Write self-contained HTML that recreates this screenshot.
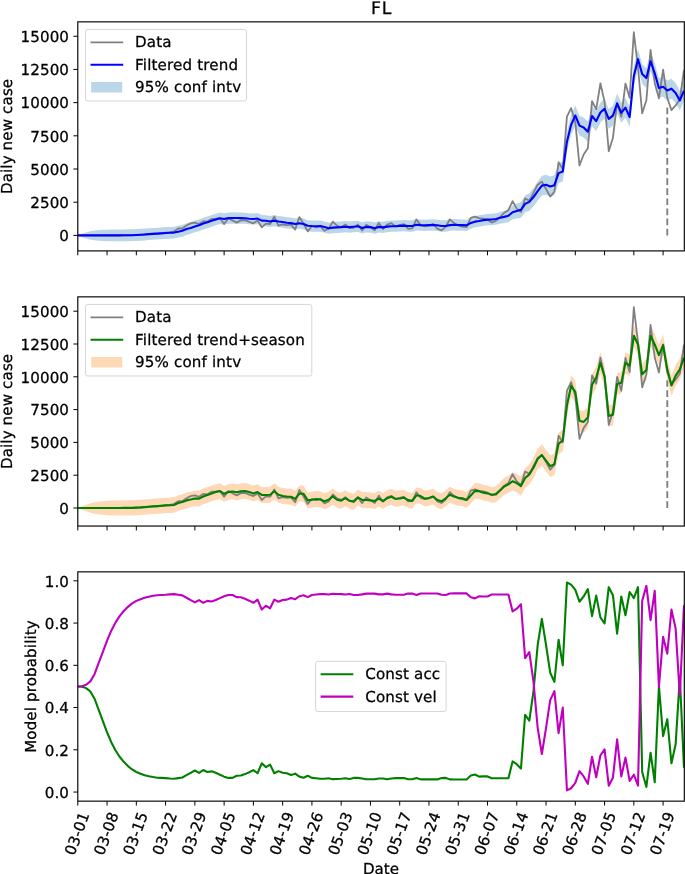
<!DOCTYPE html>
<html><head><meta charset="utf-8"><title>FL</title>
<style>html,body{margin:0;padding:0;background:#fff}svg{display:block}</style></head>
<body>
<svg width="685" height="874" viewBox="0 0 685 874" font-family="'DejaVu Sans', 'Liberation Sans', sans-serif" font-size="15.1px" fill="#000">
<rect width="685" height="874" fill="#fff"/>
<style>text{stroke:#000;stroke-width:0.28px;stroke-linejoin:round;text-rendering:geometricPrecision}</style>
<defs>
<clipPath id="c1"><rect x="77.8" y="21.85" width="606.5" height="229.05"/></clipPath>
<clipPath id="c2"><rect x="77.8" y="296.85" width="606.5" height="229.19999999999993"/></clipPath>
<clipPath id="c3"><rect x="77.8" y="571.85" width="606.5" height="229.29999999999995"/></clipPath>
</defs>
<g clip-path="url(#c1)">
<polygon points="77.80,235.40 81.98,233.67 86.16,232.41 90.34,231.15 94.52,230.55 98.70,229.96 102.88,229.80 107.06,229.65 111.25,229.49 115.43,229.45 119.61,229.42 123.79,229.38 127.97,229.34 132.15,229.31 136.33,229.09 140.51,228.87 144.69,228.56 148.87,228.26 153.05,227.99 157.23,227.73 161.41,227.42 165.59,227.12 169.78,226.90 173.96,226.68 178.14,225.80 182.32,224.92 186.50,223.17 190.68,222.04 194.86,220.56 199.04,219.40 203.22,217.68 207.40,216.47 211.58,214.95 215.76,213.66 219.94,212.54 224.12,213.27 228.31,212.43 232.49,212.29 236.67,212.41 240.85,212.53 245.03,212.63 249.21,213.17 253.39,213.44 257.57,213.00 261.75,215.01 265.93,215.18 270.11,215.88 274.29,215.00 278.47,215.88 282.65,216.49 286.83,217.19 291.02,217.53 295.20,218.41 299.38,217.62 303.56,218.40 307.74,220.15 311.92,220.41 316.10,220.59 320.28,220.41 324.46,221.46 328.64,222.60 332.82,221.97 337.00,221.72 341.18,221.45 345.36,221.09 349.55,221.44 353.73,221.08 357.91,220.64 362.09,222.31 366.27,221.26 370.45,221.43 374.63,222.57 378.81,221.26 382.99,221.69 387.17,220.99 391.35,220.55 395.53,220.54 399.71,220.18 403.89,219.93 408.08,220.36 412.26,220.36 416.44,219.04 420.62,219.48 424.80,219.65 428.98,219.48 433.16,219.29 437.34,219.64 441.52,220.35 445.70,220.34 449.88,219.47 454.06,219.03 458.24,219.28 462.42,219.46 466.61,219.63 470.79,217.26 474.97,215.95 479.15,215.33 483.33,214.43 487.51,213.90 491.69,213.76 495.87,213.23 500.05,211.88 504.23,210.74 508.41,209.42 512.59,205.41 516.77,203.60 520.95,201.96 525.13,195.59 529.32,193.13 533.50,187.88 537.68,181.54 541.86,175.65 546.04,174.79 550.22,176.52 554.40,175.26 558.58,163.17 562.76,161.58 566.94,131.72 571.12,114.87 575.30,105.56 579.48,115.68 583.66,117.61 587.85,121.78 592.03,106.06 596.21,111.18 600.39,102.52 604.57,98.83 608.75,108.94 612.93,105.72 617.11,93.54 621.29,102.84 625.47,97.70 629.65,107.08 633.83,66.12 638.01,49.19 642.19,64.06 646.38,68.16 650.56,51.39 654.74,63.20 658.92,78.11 663.10,76.86 667.28,80.59 671.46,78.73 675.64,83.07 679.82,90.53 684.00,80.59 684.00,100.51 679.82,110.45 675.64,102.99 671.46,98.65 667.28,100.51 663.10,96.77 658.92,98.02 654.74,83.11 650.56,71.31 646.38,88.08 642.19,83.98 638.01,69.11 633.83,86.03 629.65,126.99 625.47,117.62 621.29,122.76 617.11,113.45 612.93,125.64 608.75,128.85 604.57,118.75 600.39,122.44 596.21,131.10 592.03,125.97 587.85,141.69 583.66,137.52 579.48,135.60 575.30,125.48 571.12,134.79 566.94,151.64 562.76,181.50 558.58,183.09 554.40,195.17 550.22,196.43 546.04,194.71 541.86,195.57 537.68,200.65 533.50,206.20 529.32,210.65 525.13,212.23 520.95,217.72 516.77,218.47 512.59,219.22 508.41,222.16 504.23,223.04 500.05,223.74 495.87,224.65 491.69,225.17 487.51,225.31 483.33,225.83 479.15,226.73 474.97,227.34 470.79,228.66 466.61,231.02 462.42,230.84 458.24,230.65 454.06,230.40 449.88,230.83 445.70,231.71 441.52,231.71 437.34,231.00 433.16,230.64 428.98,230.82 424.80,230.99 420.62,230.82 416.44,230.38 412.26,231.69 408.08,231.69 403.89,231.25 399.71,231.50 395.53,231.86 391.35,231.85 387.17,232.29 382.99,232.99 378.81,232.55 374.63,233.86 370.45,232.72 366.27,232.54 362.09,233.59 357.91,231.91 353.73,232.35 349.55,232.71 345.36,232.35 341.18,232.70 337.00,232.97 332.82,233.22 328.64,233.84 324.46,232.69 320.28,231.64 316.10,231.81 311.92,231.64 307.74,231.37 303.56,229.62 299.38,228.83 295.20,229.61 291.02,228.73 286.83,228.39 282.65,227.68 278.47,227.07 274.29,226.19 270.11,227.06 265.93,226.36 261.75,226.18 257.57,224.16 253.39,224.60 249.21,224.33 245.03,223.78 240.85,223.75 236.67,223.70 232.49,223.64 228.31,223.85 224.12,224.76 219.94,224.09 215.76,225.28 211.58,226.64 207.40,228.22 203.22,229.49 199.04,231.22 194.86,232.37 190.68,233.86 186.50,234.99 182.32,236.74 178.14,237.62 173.96,238.49 169.78,238.71 165.59,238.93 161.41,239.24 157.23,239.54 153.05,239.81 148.87,240.07 144.69,240.38 140.51,240.68 136.33,240.90 132.15,241.12 127.97,241.16 123.79,241.20 119.61,241.23 115.43,241.27 111.25,241.31 107.06,241.15 102.88,241.00 98.70,240.84 94.52,240.25 90.34,239.65 86.16,238.39 81.98,237.13 77.80,235.40" fill="#1f77b4" fill-opacity="0.3" stroke="none"/>
<polyline points="77.80,235.40 81.98,235.40 86.16,235.37 90.34,235.40 94.52,235.40 98.70,235.33 102.88,235.36 107.06,235.35 111.25,235.40 115.43,235.37 119.61,235.37 123.79,235.31 127.97,235.36 132.15,235.19 136.33,235.07 140.51,234.88 144.69,234.60 148.87,234.10 153.05,233.66 157.23,233.67 161.41,233.13 165.59,232.73 169.78,232.36 173.96,231.42 178.14,228.50 182.32,228.50 186.50,225.58 190.68,223.34 194.86,222.61 199.04,224.07 203.22,221.15 207.40,221.59 211.58,218.95 215.76,218.67 219.94,218.22 224.12,224.07 228.31,218.22 232.49,220.41 236.67,222.61 240.85,220.41 245.03,220.13 249.21,221.88 253.39,223.34 257.57,220.41 261.75,227.31 265.93,223.57 270.11,223.98 274.29,216.64 278.47,225.59 282.65,224.49 286.83,225.06 291.02,224.63 295.20,229.56 299.38,217.08 303.56,223.72 307.74,231.34 311.92,226.25 316.10,227.30 320.28,226.00 324.46,230.79 328.64,228.80 332.82,221.62 337.00,225.64 341.18,227.23 345.36,224.53 349.55,228.20 353.73,227.93 357.91,224.43 362.09,230.47 366.27,224.75 370.45,227.50 374.63,230.28 378.81,222.91 382.99,229.04 387.17,224.67 391.35,223.08 395.53,226.46 399.71,225.08 403.89,224.06 408.08,228.73 412.26,228.40 416.44,219.41 420.62,225.10 424.80,226.42 428.98,225.58 433.16,223.73 437.34,228.64 441.52,230.37 445.70,226.76 449.88,219.31 454.06,223.09 458.24,225.59 462.42,226.54 466.61,227.21 470.79,217.91 474.97,216.56 479.15,218.07 483.33,218.54 487.51,219.73 491.69,222.57 495.87,220.85 500.05,217.20 504.23,212.86 508.41,210.15 512.59,201.13 516.77,208.63 520.95,212.06 525.13,198.45 529.32,200.75 533.50,192.82 537.68,184.66 541.86,181.64 546.04,189.01 550.22,196.55 554.40,191.77 558.58,162.27 562.76,168.96 566.94,116.68 571.12,108.14 575.30,122.15 579.48,165.48 583.66,154.50 587.85,148.26 592.03,101.18 596.21,109.43 600.39,83.27 604.57,101.85 608.75,151.28 612.93,137.85 617.11,102.78 621.29,116.77 625.47,83.60 629.65,97.85 633.83,32.26 638.01,67.79 642.19,113.33 646.38,100.23 650.56,49.99 654.74,83.17 658.92,98.28 663.10,69.73 667.28,98.02 671.46,110.07 675.64,105.48 679.82,99.32 684.00,70.18" fill="none" stroke="#808080" stroke-width="1.8" stroke-linejoin="round" stroke-linecap="butt" />
<polyline points="77.80,235.40 81.98,235.40 86.16,235.40 90.34,235.40 94.52,235.40 98.70,235.40 102.88,235.40 107.06,235.40 111.25,235.40 115.43,235.36 119.61,235.33 123.79,235.29 127.97,235.25 132.15,235.21 136.33,235.00 140.51,234.78 144.69,234.47 148.87,234.17 153.05,233.90 157.23,233.63 161.41,233.33 165.59,233.02 169.78,232.80 173.96,232.59 178.14,231.71 182.32,230.83 186.50,229.08 190.68,227.95 194.86,226.46 199.04,225.31 203.22,223.58 207.40,222.35 211.58,220.80 215.76,219.47 219.94,218.31 224.12,219.02 228.31,218.14 232.49,217.97 236.67,218.05 240.85,218.14 245.03,218.21 249.21,218.75 253.39,219.02 257.57,218.58 261.75,220.60 265.93,220.77 270.11,221.47 274.29,220.60 278.47,221.47 282.65,222.08 286.83,222.79 291.02,223.13 295.20,224.01 299.38,223.22 303.56,224.01 307.74,225.76 311.92,226.03 316.10,226.20 320.28,226.03 324.46,227.08 328.64,228.22 332.82,227.59 337.00,227.34 341.18,227.08 345.36,226.72 349.55,227.08 353.73,226.72 357.91,226.28 362.09,227.95 366.27,226.90 370.45,227.08 374.63,228.22 378.81,226.90 382.99,227.34 387.17,226.64 391.35,226.20 395.53,226.20 399.71,225.84 403.89,225.59 408.08,226.03 412.26,226.03 416.44,224.71 420.62,225.15 424.80,225.32 428.98,225.15 433.16,224.96 437.34,225.32 441.52,226.03 445.70,226.03 449.88,225.15 454.06,224.71 458.24,224.96 462.42,225.15 466.61,225.32 470.79,222.96 474.97,221.65 479.15,221.03 483.33,220.13 487.51,219.60 491.69,219.47 495.87,218.94 500.05,217.81 504.23,216.89 508.41,215.79 512.59,212.31 516.77,211.04 520.95,209.84 525.13,203.91 529.32,201.89 533.50,197.04 537.68,191.09 541.86,185.61 546.04,184.75 550.22,186.47 554.40,185.21 558.58,173.13 562.76,171.54 566.94,141.68 571.12,124.83 575.30,115.52 579.48,125.64 583.66,127.56 587.85,131.73 592.03,116.01 596.21,121.14 600.39,112.48 604.57,108.79 608.75,118.89 612.93,115.68 617.11,103.49 621.29,112.80 625.47,107.66 629.65,117.04 633.83,76.08 638.01,59.15 642.19,74.02 646.38,78.12 650.56,61.35 654.74,73.16 658.92,88.07 663.10,86.82 667.28,90.55 671.46,88.69 675.64,93.03 679.82,100.49 684.00,90.55" fill="none" stroke="#0000ff" stroke-width="2.1" stroke-linejoin="round" stroke-linecap="butt" />
<line x1="667.28" x2="667.28" y1="235.40" y2="106.08" stroke="#808080" stroke-width="1.9" stroke-dasharray="6.7 3.4"/>
</g>
<g clip-path="url(#c2)">
<polygon points="77.80,508.00 81.98,506.16 86.16,504.65 90.34,503.15 94.52,502.29 98.70,501.44 102.88,501.13 107.06,500.83 111.25,500.52 115.43,500.47 119.61,500.41 123.79,500.36 127.97,500.30 132.15,500.27 136.33,500.05 140.51,499.81 144.69,499.46 148.87,499.07 153.05,498.74 157.23,498.42 161.41,498.05 165.59,497.69 169.78,497.45 173.96,497.21 178.14,495.26 182.32,494.20 186.50,492.60 190.68,491.71 194.86,490.64 199.04,490.79 203.22,488.58 207.40,487.10 211.58,485.52 215.76,484.20 219.94,483.15 224.12,485.94 228.31,484.19 232.49,483.57 236.67,484.35 240.85,483.47 245.03,483.03 249.21,484.17 253.39,485.47 257.57,484.16 261.75,487.04 265.93,487.03 270.11,486.77 274.29,483.26 278.47,486.76 282.65,488.07 286.83,488.49 291.02,488.75 295.20,490.86 299.38,485.60 303.56,485.85 307.74,492.42 311.92,491.72 316.10,491.10 320.28,491.53 324.46,493.28 328.64,491.70 332.82,488.45 337.00,491.71 341.18,492.66 345.36,490.22 349.55,492.85 353.73,493.85 357.91,489.52 362.09,491.98 366.27,492.09 370.45,492.42 374.63,493.04 378.81,490.68 382.99,493.05 387.17,490.26 391.35,488.76 395.53,490.87 399.71,490.53 403.89,489.65 408.08,492.20 412.26,492.90 416.44,487.39 420.62,488.09 424.80,490.72 428.98,490.03 433.16,488.53 437.34,492.04 441.52,493.37 445.70,490.38 449.88,486.84 454.06,488.68 458.24,489.86 462.42,490.29 466.61,492.05 470.79,487.67 474.97,482.99 479.15,483.28 483.33,484.75 487.51,485.49 491.69,486.95 495.87,486.52 500.05,482.28 504.23,478.03 508.41,475.55 512.59,472.18 516.77,473.79 520.95,476.41 525.13,468.07 529.32,464.13 533.50,457.38 537.68,448.45 541.86,444.34 546.04,449.63 550.22,455.27 554.40,453.27 558.58,432.82 562.76,429.62 566.94,394.69 571.12,375.11 575.30,381.07 579.48,409.97 583.66,411.11 587.85,406.78 592.03,373.90 596.21,366.68 600.39,352.03 604.57,365.99 608.75,405.24 612.93,404.12 617.11,373.33 621.29,372.16 625.47,352.10 629.65,354.87 633.83,325.10 638.01,333.90 642.19,363.69 646.38,359.36 650.56,325.20 654.74,333.91 658.92,344.48 663.10,334.55 667.28,358.79 671.46,374.97 675.64,365.03 679.82,358.83 684.00,347.03 684.00,368.02 679.82,379.84 675.64,386.07 671.46,396.03 667.28,379.88 663.10,355.66 658.92,365.61 654.74,355.06 650.56,346.38 646.38,380.57 642.19,384.92 638.01,355.15 633.83,346.37 629.65,376.17 625.47,373.42 621.29,393.51 617.11,394.70 612.93,425.52 608.75,426.66 604.57,387.43 600.39,373.50 596.21,388.18 592.03,395.42 587.85,428.32 583.66,432.68 579.48,431.56 575.30,402.68 571.12,396.75 566.94,416.35 562.76,451.30 558.58,454.53 554.40,475.01 550.22,477.02 546.04,471.41 541.86,465.79 537.68,469.57 533.50,478.17 529.32,484.59 525.13,487.95 520.95,495.69 516.77,492.49 512.59,490.29 508.41,493.06 504.23,494.96 500.05,498.61 495.87,502.27 491.69,502.70 487.51,501.25 483.33,500.52 479.15,499.05 474.97,498.77 470.79,503.45 466.61,507.84 462.42,506.08 458.24,505.67 454.06,504.49 449.88,502.66 445.70,506.20 441.52,509.20 437.34,507.88 433.16,504.38 428.98,505.87 424.80,506.57 420.62,503.95 416.44,503.26 412.26,508.77 408.08,508.08 403.89,505.54 399.71,506.42 395.53,506.77 391.35,504.67 387.17,506.17 382.99,508.97 378.81,506.61 374.63,508.97 370.45,508.36 366.27,508.04 362.09,507.93 357.91,505.48 353.73,509.82 349.55,508.82 345.36,506.20 341.18,508.65 337.00,507.70 332.82,504.45 328.64,507.71 324.46,509.28 320.28,507.52 316.10,507.08 311.92,507.69 307.74,508.38 303.56,501.81 299.38,501.54 295.20,506.80 291.02,504.68 286.83,504.41 282.65,503.98 278.47,502.66 274.29,499.15 270.11,502.65 265.93,502.91 261.75,502.91 257.57,500.01 253.39,501.32 249.21,500.01 245.03,498.86 240.85,499.29 236.67,500.16 232.49,499.37 228.31,499.98 224.12,501.72 219.94,498.93 215.76,499.97 211.58,501.28 207.40,502.85 203.22,504.33 199.04,506.50 194.86,506.31 190.68,507.34 186.50,508.20 182.32,509.76 178.14,510.79 173.96,512.70 169.78,512.91 165.59,513.11 161.41,513.44 157.23,513.77 153.05,514.06 148.87,514.35 144.69,514.70 140.51,515.01 136.33,515.22 132.15,515.41 127.97,515.40 123.79,515.42 119.61,515.44 115.43,515.46 111.25,515.48 107.06,515.17 102.88,514.87 98.70,514.56 94.52,513.71 90.34,512.85 86.16,511.35 81.98,509.84 77.80,508.00" fill="#ff7f0e" fill-opacity="0.3" stroke="none"/>
<polyline points="77.80,508.00 81.98,508.00 86.16,507.97 90.34,508.00 94.52,508.00 98.70,507.93 102.88,507.96 107.06,507.95 111.25,508.00 115.43,507.97 119.61,507.97 123.79,507.91 127.97,507.96 132.15,507.79 136.33,507.67 140.51,507.49 144.69,507.21 148.87,506.71 153.05,506.28 157.23,506.29 161.41,505.76 165.59,505.36 169.78,505.00 173.96,504.06 178.14,501.18 182.32,501.18 186.50,498.29 190.68,496.09 194.86,495.37 199.04,496.81 203.22,493.92 207.40,494.36 211.58,491.74 215.76,491.47 219.94,491.02 224.12,496.81 228.31,491.02 232.49,493.19 236.67,495.37 240.85,493.19 245.03,492.91 249.21,494.64 253.39,496.09 257.57,493.19 261.75,500.01 265.93,496.31 270.11,496.72 274.29,489.46 278.47,498.30 282.65,497.22 286.83,497.78 291.02,497.36 295.20,502.23 299.38,489.89 303.56,496.45 307.74,503.99 311.92,498.96 316.10,500.00 320.28,498.71 324.46,503.45 328.64,501.48 332.82,494.38 337.00,498.36 341.18,499.93 345.36,497.25 349.55,500.89 353.73,500.61 357.91,497.16 362.09,503.13 366.27,497.48 370.45,500.19 374.63,502.94 378.81,495.65 382.99,501.72 387.17,497.40 391.35,495.82 395.53,499.17 399.71,497.81 403.89,496.80 408.08,501.41 412.26,501.09 416.44,492.20 420.62,497.82 424.80,499.13 428.98,498.29 433.16,496.47 437.34,501.32 441.52,503.03 445.70,499.46 449.88,492.10 454.06,495.84 458.24,498.30 462.42,499.25 466.61,499.90 470.79,490.72 474.97,489.38 479.15,490.88 483.33,491.34 487.51,492.52 491.69,495.33 495.87,493.62 500.05,490.01 504.23,485.72 508.41,483.05 512.59,474.14 516.77,481.55 520.95,484.94 525.13,471.49 529.32,473.76 533.50,465.92 537.68,457.86 541.86,454.88 546.04,462.16 550.22,469.61 554.40,464.89 558.58,435.74 562.76,442.35 566.94,390.68 571.12,382.24 575.30,396.09 579.48,438.91 583.66,428.06 587.85,421.89 592.03,375.37 596.21,383.52 600.39,357.67 604.57,376.03 608.75,424.87 612.93,411.61 617.11,376.94 621.29,390.77 625.47,358.00 629.65,372.08 633.83,307.26 638.01,342.37 642.19,387.37 646.38,374.43 650.56,324.78 654.74,357.57 658.92,372.50 663.10,344.29 667.28,372.25 671.46,384.15 675.64,379.62 679.82,373.53 684.00,344.73" fill="none" stroke="#808080" stroke-width="1.8" stroke-linejoin="round" stroke-linecap="butt" />
<polyline points="77.80,508.00 81.98,508.00 86.16,508.00 90.34,508.00 94.52,508.00 98.70,508.00 102.88,508.00 107.06,508.00 111.25,508.00 115.43,507.96 119.61,507.93 123.79,507.89 127.97,507.85 132.15,507.84 136.33,507.63 140.51,507.41 144.69,507.08 148.87,506.71 153.05,506.40 157.23,506.10 161.41,505.74 165.59,505.40 169.78,505.18 173.96,504.96 178.14,503.03 182.32,501.98 186.50,500.40 190.68,499.52 194.86,498.47 199.04,498.65 203.22,496.45 207.40,494.97 211.58,493.40 215.76,492.09 219.94,491.04 224.12,493.83 228.31,492.09 232.49,491.47 236.67,492.26 240.85,491.38 245.03,490.94 249.21,492.09 253.39,493.40 257.57,492.09 261.75,494.97 265.93,494.97 270.11,494.71 274.29,491.21 278.47,494.71 282.65,496.02 286.83,496.45 291.02,496.72 295.20,498.83 299.38,493.57 303.56,493.83 307.74,500.40 311.92,499.71 316.10,499.09 320.28,499.52 324.46,501.28 328.64,499.71 332.82,496.45 337.00,499.71 341.18,500.65 345.36,498.21 349.55,500.84 353.73,501.83 357.91,497.50 362.09,499.96 366.27,500.06 370.45,500.39 374.63,501.01 378.81,498.65 382.99,501.01 387.17,498.21 391.35,496.72 395.53,498.82 399.71,498.47 403.89,497.60 408.08,500.14 412.26,500.84 416.44,495.33 420.62,496.02 424.80,498.65 428.98,497.95 433.16,496.45 437.34,499.96 441.52,501.28 445.70,498.29 449.88,494.75 454.06,496.59 458.24,497.77 462.42,498.19 466.61,499.94 470.79,495.56 474.97,490.88 479.15,491.17 483.33,492.64 487.51,493.37 491.69,494.83 495.87,494.39 500.05,490.45 504.23,486.50 508.41,484.31 512.59,481.24 516.77,483.14 520.95,486.05 525.13,478.01 529.32,474.36 533.50,467.77 537.68,459.01 541.86,455.06 546.04,460.52 550.22,466.15 554.40,464.14 558.58,443.67 562.76,440.46 566.94,405.52 571.12,385.93 575.30,391.87 579.48,420.77 583.66,421.89 587.85,417.55 592.03,384.66 596.21,377.43 600.39,362.76 604.57,376.71 608.75,415.95 612.93,414.82 617.11,384.02 621.29,382.84 625.47,362.76 629.65,365.52 633.83,335.73 638.01,344.52 642.19,374.31 646.38,369.96 650.56,335.79 654.74,344.49 658.92,355.05 663.10,345.10 667.28,369.33 671.46,385.50 675.64,375.55 679.82,369.33 684.00,357.53" fill="none" stroke="#008000" stroke-width="2.1" stroke-linejoin="round" stroke-linecap="butt" />
<line x1="667.28" x2="667.28" y1="508.00" y2="380.21" stroke="#808080" stroke-width="1.9" stroke-dasharray="6.7 3.4"/>
</g>
<g clip-path="url(#c3)">
<polyline points="77.80,686.44 81.98,686.65 86.16,688.13 90.34,691.51 94.52,698.69 98.70,709.89 102.88,721.08 107.06,732.27 111.25,742.20 115.43,750.23 119.61,756.78 123.79,761.85 127.97,766.07 132.15,769.45 136.33,771.98 140.51,773.67 144.69,775.15 148.87,776.21 153.05,777.05 157.23,777.69 161.41,777.90 165.59,778.11 169.78,778.53 173.96,778.74 178.14,778.11 182.32,777.48 186.50,775.15 190.68,772.83 194.86,770.51 199.04,772.83 203.22,770.08 207.40,771.98 211.58,771.35 215.76,772.83 219.94,774.73 224.12,776.63 228.31,777.90 232.49,777.90 236.67,775.79 240.85,775.57 245.03,774.10 249.21,772.20 253.39,770.08 257.57,773.25 261.75,763.32 265.93,767.13 270.11,764.59 274.29,773.25 278.47,771.14 282.65,772.83 286.83,773.25 291.02,774.94 295.20,773.67 299.38,776.63 303.56,777.69 307.74,775.79 311.92,777.90 316.10,778.32 320.28,778.74 324.46,778.74 328.64,778.32 332.82,779.17 337.00,778.95 341.18,778.74 345.36,778.32 349.55,778.95 353.73,777.90 357.91,777.90 362.09,778.53 366.27,779.27 370.45,779.27 374.63,779.27 378.81,778.53 382.99,778.53 387.17,779.27 391.35,778.53 395.53,778.11 399.71,778.11 403.89,778.11 408.08,779.27 412.26,779.27 416.44,777.90 420.62,779.38 424.80,779.38 428.98,779.38 433.16,779.38 437.34,779.38 441.52,778.11 445.70,777.90 449.88,779.38 454.06,779.48 458.24,779.48 462.42,779.48 466.61,779.48 470.79,775.57 474.97,774.52 479.15,776.63 483.33,776.42 487.51,776.42 491.69,778.32 495.87,778.32 500.05,778.32 504.23,778.32 508.41,778.32 512.59,761.42 516.77,764.17 520.95,768.60 525.13,714.74 529.32,720.66 533.50,691.09 537.68,645.04 541.86,618.85 546.04,645.04 550.22,672.71 554.40,681.79 558.58,639.76 562.76,665.32 566.94,582.52 571.12,584.63 575.30,589.91 579.48,601.74 583.66,596.46 587.85,589.07 592.03,616.10 596.21,595.62 600.39,617.37 604.57,623.50 608.75,587.17 612.93,595.19 617.11,633.63 621.29,596.46 625.47,615.26 629.65,592.02 633.83,598.15 638.01,587.17 642.19,771.98 646.38,786.98 650.56,752.76 654.74,782.12 658.92,686.02 663.10,736.08 667.28,719.18 671.46,763.32 675.64,744.31 679.82,677.36 684.00,767.76" fill="none" stroke="#008000" stroke-width="2.1" stroke-linejoin="round" stroke-linecap="butt" />
<polyline points="77.80,686.44 81.98,686.23 86.16,684.75 90.34,681.37 94.52,674.19 98.70,662.99 102.88,651.80 107.06,640.61 111.25,630.68 115.43,622.65 119.61,616.10 123.79,611.03 127.97,606.81 132.15,603.43 136.33,600.90 140.51,599.21 144.69,597.73 148.87,596.67 153.05,595.83 157.23,595.19 161.41,594.98 165.59,594.77 169.78,594.35 173.96,594.14 178.14,594.77 182.32,595.40 186.50,597.73 190.68,600.05 194.86,602.37 199.04,600.05 203.22,602.80 207.40,600.90 211.58,601.53 215.76,600.05 219.94,598.15 224.12,596.25 228.31,594.98 232.49,594.98 236.67,597.09 240.85,597.31 245.03,598.78 249.21,600.68 253.39,602.80 257.57,599.63 261.75,609.56 265.93,605.75 270.11,608.29 274.29,599.63 278.47,601.74 282.65,600.05 286.83,599.63 291.02,597.94 295.20,599.21 299.38,596.25 303.56,595.19 307.74,597.09 311.92,594.98 316.10,594.56 320.28,594.14 324.46,594.14 328.64,594.56 332.82,593.71 337.00,593.93 341.18,594.14 345.36,594.56 349.55,593.93 353.73,594.98 357.91,594.98 362.09,594.35 366.27,593.61 370.45,593.61 374.63,593.61 378.81,594.35 382.99,594.35 387.17,593.61 391.35,594.35 395.53,594.77 399.71,594.77 403.89,594.77 408.08,593.61 412.26,593.61 416.44,594.98 420.62,593.50 424.80,593.50 428.98,593.50 433.16,593.50 437.34,593.50 441.52,594.77 445.70,594.98 449.88,593.50 454.06,593.40 458.24,593.40 462.42,593.40 466.61,593.40 470.79,597.31 474.97,598.36 479.15,596.25 483.33,596.46 487.51,596.46 491.69,594.56 495.87,594.56 500.05,594.56 504.23,594.56 508.41,594.56 512.59,611.46 516.77,608.71 520.95,604.28 525.13,658.14 529.32,652.22 533.50,681.79 537.68,727.84 541.86,754.03 546.04,727.84 550.22,700.17 554.40,691.09 558.58,733.12 562.76,707.56 566.94,790.36 571.12,788.25 575.30,782.97 579.48,771.14 583.66,776.42 587.85,783.81 592.03,756.78 596.21,777.26 600.39,755.51 604.57,749.38 608.75,785.71 612.93,777.69 617.11,739.25 621.29,776.42 625.47,757.62 629.65,780.86 633.83,774.73 638.01,785.71 642.19,600.90 646.38,585.90 650.56,620.12 654.74,590.76 658.92,686.86 663.10,636.80 667.28,653.70 671.46,609.56 675.64,628.57 679.82,695.52 684.00,605.12" fill="none" stroke="#bf00bf" stroke-width="2.1" stroke-linejoin="round" stroke-linecap="butt" />
</g>
<rect x="77.8" y="21.85" width="606.5" height="229.05" fill="none" stroke="#000" stroke-width="1.15"/>
<line x1="73.39999999999999" x2="77.8" y1="235.40" y2="235.40" stroke="#000" stroke-width="1"/>
<text x="69.00" y="241.14" text-anchor="end" letter-spacing="0.08">0</text>
<line x1="73.39999999999999" x2="77.8" y1="202.21" y2="202.21" stroke="#000" stroke-width="1"/>
<text x="69.00" y="207.95" text-anchor="end" letter-spacing="0.08">2500</text>
<line x1="73.39999999999999" x2="77.8" y1="169.01" y2="169.01" stroke="#000" stroke-width="1"/>
<text x="69.00" y="174.75" text-anchor="end" letter-spacing="0.08">5000</text>
<line x1="73.39999999999999" x2="77.8" y1="135.82" y2="135.82" stroke="#000" stroke-width="1"/>
<text x="69.00" y="141.56" text-anchor="end" letter-spacing="0.08">7500</text>
<line x1="73.39999999999999" x2="77.8" y1="102.63" y2="102.63" stroke="#000" stroke-width="1"/>
<text x="69.00" y="108.37" text-anchor="end" letter-spacing="0.08">10000</text>
<line x1="73.39999999999999" x2="77.8" y1="69.44" y2="69.44" stroke="#000" stroke-width="1"/>
<text x="69.00" y="75.18" text-anchor="end" letter-spacing="0.08">12500</text>
<line x1="73.39999999999999" x2="77.8" y1="36.25" y2="36.25" stroke="#000" stroke-width="1"/>
<text x="69.00" y="41.98" text-anchor="end" letter-spacing="0.08">15000</text>
<line x1="77.80" x2="77.80" y1="250.9" y2="255.3" stroke="#000" stroke-width="1"/>
<line x1="107.06" x2="107.06" y1="250.9" y2="255.3" stroke="#000" stroke-width="1"/>
<line x1="136.33" x2="136.33" y1="250.9" y2="255.3" stroke="#000" stroke-width="1"/>
<line x1="165.59" x2="165.59" y1="250.9" y2="255.3" stroke="#000" stroke-width="1"/>
<line x1="194.86" x2="194.86" y1="250.9" y2="255.3" stroke="#000" stroke-width="1"/>
<line x1="224.12" x2="224.12" y1="250.9" y2="255.3" stroke="#000" stroke-width="1"/>
<line x1="253.39" x2="253.39" y1="250.9" y2="255.3" stroke="#000" stroke-width="1"/>
<line x1="282.65" x2="282.65" y1="250.9" y2="255.3" stroke="#000" stroke-width="1"/>
<line x1="311.92" x2="311.92" y1="250.9" y2="255.3" stroke="#000" stroke-width="1"/>
<line x1="341.18" x2="341.18" y1="250.9" y2="255.3" stroke="#000" stroke-width="1"/>
<line x1="370.45" x2="370.45" y1="250.9" y2="255.3" stroke="#000" stroke-width="1"/>
<line x1="399.71" x2="399.71" y1="250.9" y2="255.3" stroke="#000" stroke-width="1"/>
<line x1="428.98" x2="428.98" y1="250.9" y2="255.3" stroke="#000" stroke-width="1"/>
<line x1="458.24" x2="458.24" y1="250.9" y2="255.3" stroke="#000" stroke-width="1"/>
<line x1="487.51" x2="487.51" y1="250.9" y2="255.3" stroke="#000" stroke-width="1"/>
<line x1="516.77" x2="516.77" y1="250.9" y2="255.3" stroke="#000" stroke-width="1"/>
<line x1="546.04" x2="546.04" y1="250.9" y2="255.3" stroke="#000" stroke-width="1"/>
<line x1="575.30" x2="575.30" y1="250.9" y2="255.3" stroke="#000" stroke-width="1"/>
<line x1="604.57" x2="604.57" y1="250.9" y2="255.3" stroke="#000" stroke-width="1"/>
<line x1="633.83" x2="633.83" y1="250.9" y2="255.3" stroke="#000" stroke-width="1"/>
<line x1="663.10" x2="663.10" y1="250.9" y2="255.3" stroke="#000" stroke-width="1"/>
<rect x="77.8" y="296.85" width="606.5" height="229.19999999999993" fill="none" stroke="#000" stroke-width="1.15"/>
<line x1="73.39999999999999" x2="77.8" y1="508.00" y2="508.00" stroke="#000" stroke-width="1"/>
<text x="69.00" y="513.74" text-anchor="end" letter-spacing="0.08">0</text>
<line x1="73.39999999999999" x2="77.8" y1="475.20" y2="475.20" stroke="#000" stroke-width="1"/>
<text x="69.00" y="480.94" text-anchor="end" letter-spacing="0.08">2500</text>
<line x1="73.39999999999999" x2="77.8" y1="442.40" y2="442.40" stroke="#000" stroke-width="1"/>
<text x="69.00" y="448.14" text-anchor="end" letter-spacing="0.08">5000</text>
<line x1="73.39999999999999" x2="77.8" y1="409.60" y2="409.60" stroke="#000" stroke-width="1"/>
<text x="69.00" y="415.34" text-anchor="end" letter-spacing="0.08">7500</text>
<line x1="73.39999999999999" x2="77.8" y1="376.80" y2="376.80" stroke="#000" stroke-width="1"/>
<text x="69.00" y="382.54" text-anchor="end" letter-spacing="0.08">10000</text>
<line x1="73.39999999999999" x2="77.8" y1="344.00" y2="344.00" stroke="#000" stroke-width="1"/>
<text x="69.00" y="349.74" text-anchor="end" letter-spacing="0.08">12500</text>
<line x1="73.39999999999999" x2="77.8" y1="311.20" y2="311.20" stroke="#000" stroke-width="1"/>
<text x="69.00" y="316.94" text-anchor="end" letter-spacing="0.08">15000</text>
<line x1="77.80" x2="77.80" y1="526.05" y2="530.4499999999999" stroke="#000" stroke-width="1"/>
<line x1="107.06" x2="107.06" y1="526.05" y2="530.4499999999999" stroke="#000" stroke-width="1"/>
<line x1="136.33" x2="136.33" y1="526.05" y2="530.4499999999999" stroke="#000" stroke-width="1"/>
<line x1="165.59" x2="165.59" y1="526.05" y2="530.4499999999999" stroke="#000" stroke-width="1"/>
<line x1="194.86" x2="194.86" y1="526.05" y2="530.4499999999999" stroke="#000" stroke-width="1"/>
<line x1="224.12" x2="224.12" y1="526.05" y2="530.4499999999999" stroke="#000" stroke-width="1"/>
<line x1="253.39" x2="253.39" y1="526.05" y2="530.4499999999999" stroke="#000" stroke-width="1"/>
<line x1="282.65" x2="282.65" y1="526.05" y2="530.4499999999999" stroke="#000" stroke-width="1"/>
<line x1="311.92" x2="311.92" y1="526.05" y2="530.4499999999999" stroke="#000" stroke-width="1"/>
<line x1="341.18" x2="341.18" y1="526.05" y2="530.4499999999999" stroke="#000" stroke-width="1"/>
<line x1="370.45" x2="370.45" y1="526.05" y2="530.4499999999999" stroke="#000" stroke-width="1"/>
<line x1="399.71" x2="399.71" y1="526.05" y2="530.4499999999999" stroke="#000" stroke-width="1"/>
<line x1="428.98" x2="428.98" y1="526.05" y2="530.4499999999999" stroke="#000" stroke-width="1"/>
<line x1="458.24" x2="458.24" y1="526.05" y2="530.4499999999999" stroke="#000" stroke-width="1"/>
<line x1="487.51" x2="487.51" y1="526.05" y2="530.4499999999999" stroke="#000" stroke-width="1"/>
<line x1="516.77" x2="516.77" y1="526.05" y2="530.4499999999999" stroke="#000" stroke-width="1"/>
<line x1="546.04" x2="546.04" y1="526.05" y2="530.4499999999999" stroke="#000" stroke-width="1"/>
<line x1="575.30" x2="575.30" y1="526.05" y2="530.4499999999999" stroke="#000" stroke-width="1"/>
<line x1="604.57" x2="604.57" y1="526.05" y2="530.4499999999999" stroke="#000" stroke-width="1"/>
<line x1="633.83" x2="633.83" y1="526.05" y2="530.4499999999999" stroke="#000" stroke-width="1"/>
<line x1="663.10" x2="663.10" y1="526.05" y2="530.4499999999999" stroke="#000" stroke-width="1"/>
<rect x="77.8" y="571.85" width="606.5" height="229.29999999999995" fill="none" stroke="#000" stroke-width="1.15"/>
<line x1="73.39999999999999" x2="77.8" y1="792.05" y2="792.05" stroke="#000" stroke-width="1"/>
<text x="69.00" y="797.79" text-anchor="end" letter-spacing="0.08">0.0</text>
<line x1="73.39999999999999" x2="77.8" y1="749.81" y2="749.81" stroke="#000" stroke-width="1"/>
<text x="69.00" y="755.54" text-anchor="end" letter-spacing="0.08">0.2</text>
<line x1="73.39999999999999" x2="77.8" y1="707.56" y2="707.56" stroke="#000" stroke-width="1"/>
<text x="69.00" y="713.30" text-anchor="end" letter-spacing="0.08">0.4</text>
<line x1="73.39999999999999" x2="77.8" y1="665.32" y2="665.32" stroke="#000" stroke-width="1"/>
<text x="69.00" y="671.06" text-anchor="end" letter-spacing="0.08">0.6</text>
<line x1="73.39999999999999" x2="77.8" y1="623.07" y2="623.07" stroke="#000" stroke-width="1"/>
<text x="69.00" y="628.81" text-anchor="end" letter-spacing="0.08">0.8</text>
<line x1="73.39999999999999" x2="77.8" y1="580.83" y2="580.83" stroke="#000" stroke-width="1"/>
<text x="69.00" y="586.57" text-anchor="end" letter-spacing="0.08">1.0</text>
<line x1="77.80" x2="77.80" y1="801.15" y2="805.55" stroke="#000" stroke-width="1"/>
<line x1="107.06" x2="107.06" y1="801.15" y2="805.55" stroke="#000" stroke-width="1"/>
<line x1="136.33" x2="136.33" y1="801.15" y2="805.55" stroke="#000" stroke-width="1"/>
<line x1="165.59" x2="165.59" y1="801.15" y2="805.55" stroke="#000" stroke-width="1"/>
<line x1="194.86" x2="194.86" y1="801.15" y2="805.55" stroke="#000" stroke-width="1"/>
<line x1="224.12" x2="224.12" y1="801.15" y2="805.55" stroke="#000" stroke-width="1"/>
<line x1="253.39" x2="253.39" y1="801.15" y2="805.55" stroke="#000" stroke-width="1"/>
<line x1="282.65" x2="282.65" y1="801.15" y2="805.55" stroke="#000" stroke-width="1"/>
<line x1="311.92" x2="311.92" y1="801.15" y2="805.55" stroke="#000" stroke-width="1"/>
<line x1="341.18" x2="341.18" y1="801.15" y2="805.55" stroke="#000" stroke-width="1"/>
<line x1="370.45" x2="370.45" y1="801.15" y2="805.55" stroke="#000" stroke-width="1"/>
<line x1="399.71" x2="399.71" y1="801.15" y2="805.55" stroke="#000" stroke-width="1"/>
<line x1="428.98" x2="428.98" y1="801.15" y2="805.55" stroke="#000" stroke-width="1"/>
<line x1="458.24" x2="458.24" y1="801.15" y2="805.55" stroke="#000" stroke-width="1"/>
<line x1="487.51" x2="487.51" y1="801.15" y2="805.55" stroke="#000" stroke-width="1"/>
<line x1="516.77" x2="516.77" y1="801.15" y2="805.55" stroke="#000" stroke-width="1"/>
<line x1="546.04" x2="546.04" y1="801.15" y2="805.55" stroke="#000" stroke-width="1"/>
<line x1="575.30" x2="575.30" y1="801.15" y2="805.55" stroke="#000" stroke-width="1"/>
<line x1="604.57" x2="604.57" y1="801.15" y2="805.55" stroke="#000" stroke-width="1"/>
<line x1="633.83" x2="633.83" y1="801.15" y2="805.55" stroke="#000" stroke-width="1"/>
<line x1="663.10" x2="663.10" y1="801.15" y2="805.55" stroke="#000" stroke-width="1"/>
<text transform="translate(76.80,833.50) rotate(-70)" text-anchor="middle" letter-spacing="0.15" dy="5.44">03-01</text>
<text transform="translate(106.06,833.50) rotate(-70)" text-anchor="middle" letter-spacing="0.15" dy="5.44">03-08</text>
<text transform="translate(135.33,833.50) rotate(-70)" text-anchor="middle" letter-spacing="0.15" dy="5.44">03-15</text>
<text transform="translate(164.59,833.50) rotate(-70)" text-anchor="middle" letter-spacing="0.15" dy="5.44">03-22</text>
<text transform="translate(193.86,833.50) rotate(-70)" text-anchor="middle" letter-spacing="0.15" dy="5.44">03-29</text>
<text transform="translate(223.12,833.50) rotate(-70)" text-anchor="middle" letter-spacing="0.15" dy="5.44">04-05</text>
<text transform="translate(252.39,833.50) rotate(-70)" text-anchor="middle" letter-spacing="0.15" dy="5.44">04-12</text>
<text transform="translate(281.65,833.50) rotate(-70)" text-anchor="middle" letter-spacing="0.15" dy="5.44">04-19</text>
<text transform="translate(310.92,833.50) rotate(-70)" text-anchor="middle" letter-spacing="0.15" dy="5.44">04-26</text>
<text transform="translate(340.18,833.50) rotate(-70)" text-anchor="middle" letter-spacing="0.15" dy="5.44">05-03</text>
<text transform="translate(369.45,833.50) rotate(-70)" text-anchor="middle" letter-spacing="0.15" dy="5.44">05-10</text>
<text transform="translate(398.71,833.50) rotate(-70)" text-anchor="middle" letter-spacing="0.15" dy="5.44">05-17</text>
<text transform="translate(427.98,833.50) rotate(-70)" text-anchor="middle" letter-spacing="0.15" dy="5.44">05-24</text>
<text transform="translate(457.24,833.50) rotate(-70)" text-anchor="middle" letter-spacing="0.15" dy="5.44">05-31</text>
<text transform="translate(486.51,833.50) rotate(-70)" text-anchor="middle" letter-spacing="0.15" dy="5.44">06-07</text>
<text transform="translate(515.77,833.50) rotate(-70)" text-anchor="middle" letter-spacing="0.15" dy="5.44">06-14</text>
<text transform="translate(545.04,833.50) rotate(-70)" text-anchor="middle" letter-spacing="0.15" dy="5.44">06-21</text>
<text transform="translate(574.30,833.50) rotate(-70)" text-anchor="middle" letter-spacing="0.15" dy="5.44">06-28</text>
<text transform="translate(603.57,833.50) rotate(-70)" text-anchor="middle" letter-spacing="0.15" dy="5.44">07-05</text>
<text transform="translate(632.83,833.50) rotate(-70)" text-anchor="middle" letter-spacing="0.15" dy="5.44">07-12</text>
<text transform="translate(662.10,833.50) rotate(-70)" text-anchor="middle" letter-spacing="0.15" dy="5.44">07-19</text>
<text x="381.0" y="874.3" text-anchor="middle">Date</text>
<text transform="translate(11.9,136.4) rotate(-90)" text-anchor="middle" letter-spacing="0.12">Daily new case</text>
<text transform="translate(11.9,411.4) rotate(-90)" text-anchor="middle" letter-spacing="0.12">Daily new case</text>
<text transform="translate(36.0,686.5) rotate(-90)" text-anchor="middle" letter-spacing="0.12">Model probability</text>
<text x="381.6" y="14" text-anchor="middle" font-size="17.3px" letter-spacing="0.9">FL</text>
<rect x="85.5" y="29.4" width="161" height="71.6" rx="2.2" fill="#fff" fill-opacity="0.8" stroke="#ccc" stroke-opacity="0.8" stroke-width="1"/>
<line x1="90.5" x2="123.2" y1="42.3" y2="42.3" stroke="#808080" stroke-width="1.8"/>
<text x="135.1" y="47.1" letter-spacing="0.15">Data</text>
<line x1="90.5" x2="123.2" y1="64.75" y2="64.75" stroke="#0000ff" stroke-width="2.1"/>
<text x="135.1" y="69.9" letter-spacing="0.15">Filtered trend</text>
<rect x="91.2" y="81.99999999999999" width="31" height="10.5" fill="#1f77b4" fill-opacity="0.3"/>
<text x="135.1" y="92.3" letter-spacing="0.15">95% conf intv</text>
<rect x="85.5" y="304.4" width="226.3" height="71.6" rx="2.2" fill="#fff" fill-opacity="0.8" stroke="#ccc" stroke-opacity="0.8" stroke-width="1"/>
<line x1="90.5" x2="123.2" y1="317.29999999999995" y2="317.29999999999995" stroke="#808080" stroke-width="1.8"/>
<text x="135.1" y="322.1" letter-spacing="0.15">Data</text>
<line x1="90.5" x2="123.2" y1="339.74999999999994" y2="339.74999999999994" stroke="#008000" stroke-width="2.1"/>
<text x="135.1" y="344.9" letter-spacing="0.15">Filtered trend+season</text>
<rect x="91.2" y="356.99999999999994" width="31" height="10.5" fill="#ff7f0e" fill-opacity="0.3"/>
<text x="135.1" y="367.3" letter-spacing="0.15">95% conf intv</text>
<rect x="315.6" y="661.3" width="130.5" height="50.2" rx="2.2" fill="#fff" fill-opacity="0.8" stroke="#ccc" stroke-opacity="0.8" stroke-width="1"/>
<line x1="320.6" x2="353.3" y1="674.1999999999999" y2="674.1999999999999" stroke="#008000" stroke-width="2.1"/>
<text x="365.20000000000005" y="679.1" letter-spacing="0.15">Const acc</text>
<line x1="320.6" x2="353.3" y1="696.65" y2="696.65" stroke="#bf00bf" stroke-width="2.1"/>
<text x="365.20000000000005" y="701.7" letter-spacing="0.15">Const vel</text>
</svg>
</body></html>
